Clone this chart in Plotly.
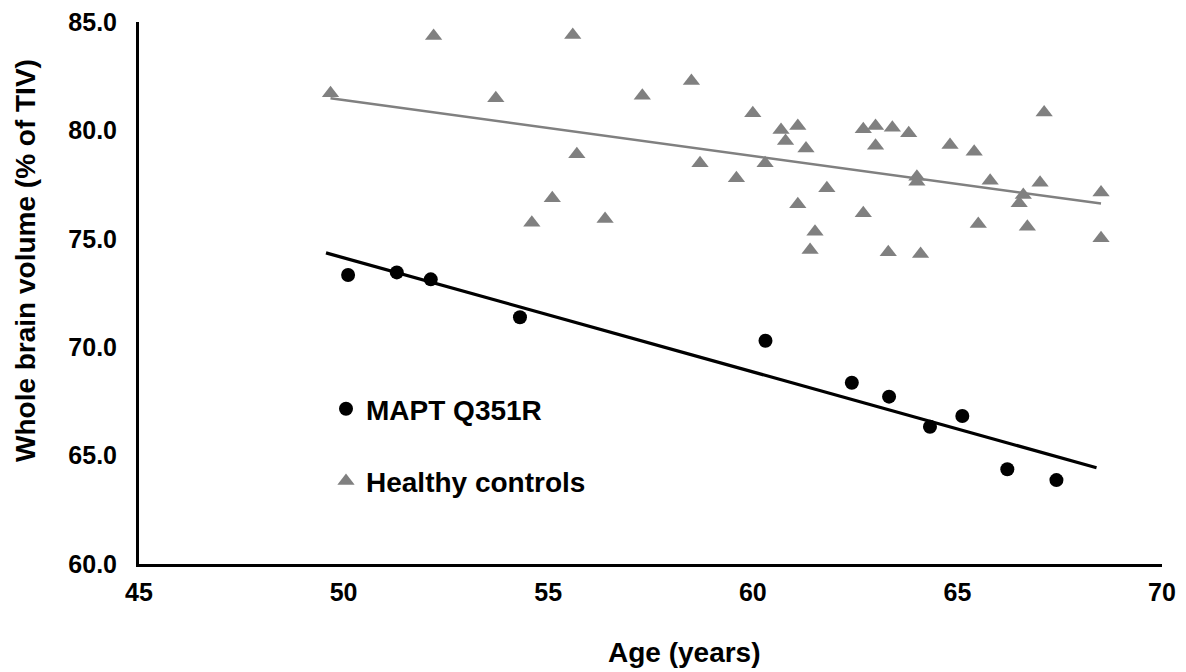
import numpy as np
import plotly.graph_objects as go

# ---- data ----
mapt_age = [50.11, 51.30, 52.13, 54.31, 60.31, 62.42, 63.33, 64.33, 65.12, 66.22, 67.42]
mapt_vol = [73.33, 73.45, 73.13, 71.38, 70.30, 68.36, 67.72, 66.33, 66.83, 64.37, 63.87]

hc_age = [49.68, 52.20, 55.60, 53.72, 57.30, 58.50, 55.70, 58.71, 59.60, 55.10, 54.60,
          56.39, 60.00, 60.69, 61.10, 60.80, 61.30, 60.30, 61.81, 61.10, 61.52, 61.40,
          62.70, 63.00, 63.41, 63.81, 63.00, 62.70, 63.31, 64.10, 64.01, 64.01, 64.82,
          65.41, 65.80, 65.51, 67.12, 67.02, 66.61, 66.51, 66.71, 68.51, 68.51]
hc_vol = [81.71, 84.35, 84.40, 81.48, 81.60, 82.28, 78.90, 78.48, 77.79, 76.87, 75.74,
          75.91, 80.79, 80.02, 80.20, 79.51, 79.17, 78.48, 77.33, 76.59, 75.33, 74.48,
          80.05, 80.20, 80.12, 79.87, 79.29, 76.18, 74.38, 74.30, 77.86, 77.63, 79.33,
          79.02, 77.68, 75.68, 80.83, 77.59, 77.02, 76.64, 75.56, 77.14, 75.02]

mapt_trend_range = [49.57, 68.40]
hc_trend_range = [min(hc_age), max(hc_age)]

x_ticks = [45, 50, 55, 60, 65, 70]
y_ticks = [60, 65, 70, 75, 80, 85]

# linear fits
m1, b1 = np.polyfit(mapt_age, mapt_vol, 1)
m2, b2 = np.polyfit(hc_age, hc_vol, 1)
mapt_tx = np.array(mapt_trend_range)
hc_tx = np.array(hc_trend_range)

FONT = "Arial, Liberation Sans, Helvetica, sans-serif"
GRAY = "#808080"

fig = go.Figure()
fig.add_trace(go.Scatter(x=hc_tx, y=m2 * hc_tx + b2, mode="lines",
                         line=dict(color=GRAY, width=2.5), showlegend=False, hoverinfo="skip"))
fig.add_trace(go.Scatter(x=mapt_tx, y=m1 * mapt_tx + b1, mode="lines",
                         line=dict(color="black", width=3.2), showlegend=False, hoverinfo="skip"))
fig.add_trace(go.Scatter(x=hc_age, y=hc_vol, mode="markers", name="Healthy controls",
                         legendgroup="hc", legendrank=2,
                         marker=dict(symbol="triangle-up", size=15, color=GRAY)))
fig.add_trace(go.Scatter(x=mapt_age, y=mapt_vol, mode="markers", name="MAPT Q351R",
                         legendgroup="mapt", legendrank=1,
                         marker=dict(symbol="circle", size=14, color="black")))

# page has an 8px body margin; figure is sized so that it fills the window
OFF = 8
W, H = 1186 - OFF, 672 - OFF
PX0, PX1, PY0, PY1 = 139, 1162, 22, 564   # plot area in window pixels
L, T = PX0 - OFF, PY0 - OFF
R = W - (PX1 - OFF)
B = H - (PY1 - OFF)
pw, ph = PX1 - PX0, PY1 - PY0

def px2paper_x(px):
    return (px - PX0) / pw

def px2paper_y(py):
    return (PY1 - py) / ph

fig.update_layout(
    width=W, height=H,
    margin=dict(l=L, r=R, t=T, b=B, autoexpand=False),
    paper_bgcolor="white", plot_bgcolor="white",
    font=dict(family=FONT, color="black"),
    showlegend=True,
    legend=dict(x=px2paper_x(326), y=px2paper_y(384), xanchor="left", yanchor="top",
                font=dict(size=28, family=FONT, color="black", weight="bold"),
                tracegroupgap=33, bgcolor="rgba(0,0,0,0)", itemsizing="trace"),
    xaxis=dict(range=[45, 70], tickvals=x_ticks, ticktext=[str(v) for v in x_ticks],
               showgrid=False, zeroline=False, showline=True, linecolor="black", linewidth=3,
               ticks="", tickfont=dict(size=25, family=FONT, color="black", weight="bold"),
               ticklabelstandoff=4, ticklabeloverflow="allow"),
    yaxis=dict(range=[60, 85], tickvals=y_ticks, ticktext=[f"{v:.1f}" for v in y_ticks],
               showgrid=False, zeroline=False, showline=True, linecolor="black", linewidth=3,
               ticks="", tickfont=dict(size=25, family=FONT, color="black", weight="bold"),
               ticklabelstandoff=14, ticklabeloverflow="allow"),
    annotations=[
        dict(text="Age (years)", xref="paper", yref="paper", x=px2paper_x(684), y=px2paper_y(652),
             xanchor="center", yanchor="middle", showarrow=False,
             font=dict(size=28, family=FONT, color="black", weight="bold")),
        dict(text="Whole brain volume (% of TIV)", xref="paper", yref="paper",
             x=px2paper_x(25), y=px2paper_y(261), textangle=-90,
             xanchor="center", yanchor="middle", showarrow=False,
             font=dict(size=28, family=FONT, color="black", weight="bold")),
    ],
)

fig.write_html("out.html")
